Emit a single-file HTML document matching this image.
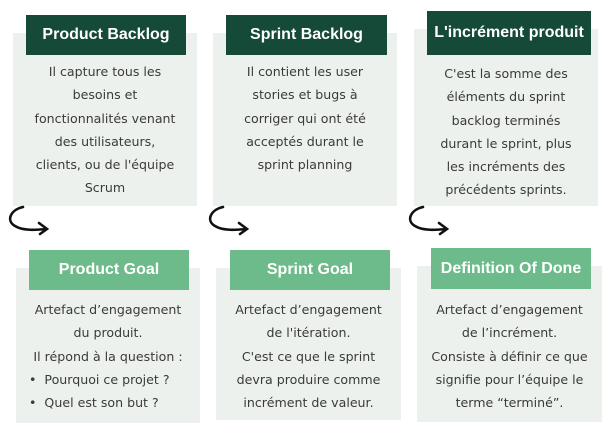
<!DOCTYPE html>
<html><head><meta charset="utf-8"><style>
body{margin:0;width:608px;height:433px;background:#fff;position:relative;overflow:hidden;font-family:"Liberation Sans","DejaVu Sans",sans-serif}
.bg{position:absolute;background:#edf1ee}
.h{position:absolute;color:#fff;font-weight:bold;font-size:16px;display:flex;align-items:center;justify-content:center;white-space:nowrap}
.d{background:#154a38}.l{background:#6dbb8b}
.t{position:absolute;text-align:center;color:#3a3a3a;font-family:"DejaVu Sans",sans-serif;font-size:12.6px;line-height:23.3px;white-space:nowrap}
svg{position:absolute}
</style></head><body>
<div class="bg" style="left:13px;top:33px;width:184px;height:173px"></div>
<div class="h d" style="left:26px;top:15px;width:160px;height:40px">Product Backlog</div>
<div class="t" style="left:13px;top:60px;width:184px">Il capture tous les<br>besoins et<br>fonctionnalités venant<br>des utilisateurs,<br>clients, ou de l'équipe<br>Scrum</div>

<div class="bg" style="left:213px;top:33px;width:184px;height:173px"></div>
<div class="h d" style="left:226px;top:15px;width:161px;height:40px">Sprint Backlog</div>
<div class="t" style="left:213px;top:60px;width:184px">Il contient les user<br>stories et bugs à<br>corriger qui ont été<br>acceptés durant le<br>sprint planning</div>

<div class="bg" style="left:414px;top:29px;width:184px;height:177px"></div>
<div class="h d" style="left:427px;top:11px;width:164px;height:44px">L'incrément produit</div>
<div class="t" style="left:414px;top:62px;width:184px">C'est la somme des<br>éléments du sprint<br>backlog terminés<br>durant le sprint, plus<br>les incréments des<br>précédents sprints.</div>

<div class="bg" style="left:16px;top:268px;width:184px;height:155px"></div>
<div class="h l" style="left:29px;top:250px;width:160px;height:40px">Product Goal</div>
<div class="t" style="left:16px;top:298px;width:184px">Artefact d’engagement<br>du produit.<br>Il répond à la question :</div>
<div class="t" style="left:29px;top:368px;text-align:left">•&nbsp; Pourquoi ce projet ?<br>•&nbsp; Quel est son but ?</div>

<div class="bg" style="left:216px;top:268px;width:185px;height:152px"></div>
<div class="h l" style="left:230px;top:250px;width:160px;height:40px">Sprint Goal</div>
<div class="t" style="left:216px;top:298px;width:185px">Artefact d’engagement<br>de l'itération.<br>C'est ce que le sprint<br>devra produire comme<br>incrément de valeur.</div>

<div class="bg" style="left:417px;top:266px;width:185px;height:156px"></div>
<div class="h l" style="left:431px;top:248px;width:160px;height:41px">Definition Of Done</div>
<div class="t" style="left:417px;top:298px;width:185px">Artefact d’engagement<br>de l’incrément.<br>Consiste à définir ce que<br>signifie pour l’équipe le<br>terme “terminé”.</div>

<svg width="608" height="433" style="left:0;top:0">
<defs><g id="a" fill="none" stroke="#111" stroke-width="2.6" stroke-linecap="round">
<path d="M23 207 C10 210 6 221 15 226 C23 231 36 230 46 229"/>
<path d="M39 223 L47 229 L40 234"/></g></defs>
<use href="#a"/>
<use href="#a" x="200" y="0"/>
<use href="#a" x="400" y="0"/>
</svg>
</body></html>
